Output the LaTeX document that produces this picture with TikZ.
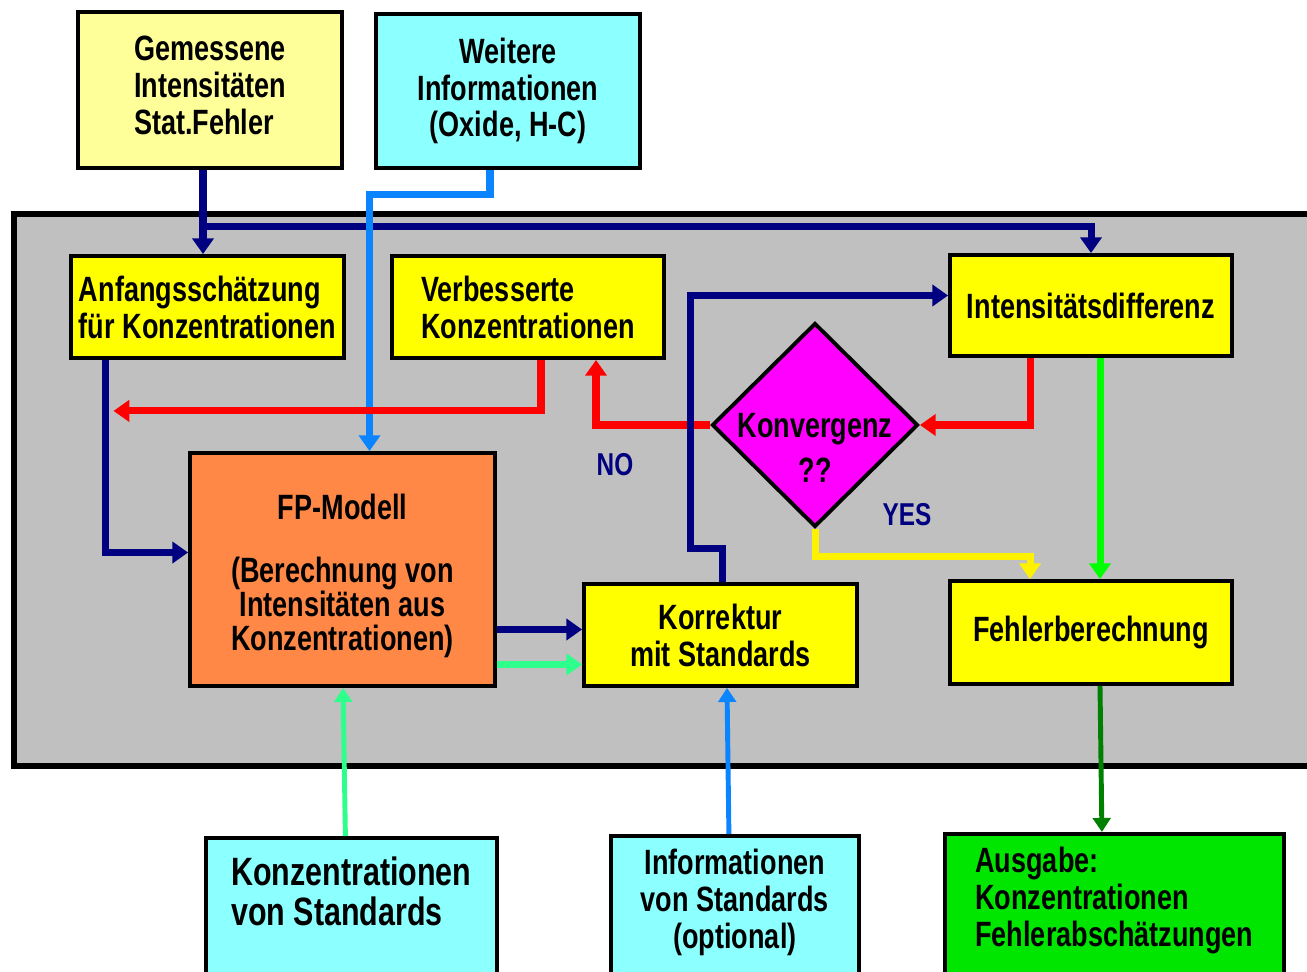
\documentclass[tikz,border=0pt]{standalone}
\usepackage{fontspec}
\newfontfamily\narrowfont[FakeStretch=0.77]{Liberation Sans}
\usetikzlibrary{positioning, arrows.meta, shapes.geometric, calc}

\definecolor{paleyellow}{HTML}{FFFF99}
\definecolor{boxyellow}{HTML}{FFFF00}
\definecolor{boxcyan}{HTML}{8CFFFF}
\definecolor{boxorange}{HTML}{FF8847}
\definecolor{boxmagenta}{HTML}{FF00FF}
\definecolor{boxgreen}{HTML}{00E600}
\definecolor{panelgray}{HTML}{C0C0C0}
\definecolor{navyline}{HTML}{000080}
\definecolor{blueline}{HTML}{0A84FF}
\definecolor{springline}{HTML}{2EFF8C}
\definecolor{greenline}{HTML}{00FF00}
\definecolor{darkline}{HTML}{008000}
\newcommand\boxfont{\narrowfont\bfseries\fontsize{20}{21}\selectfont}
\newcommand\bigboxfont{\narrowfont\bfseries\fontsize{22.5}{23}\selectfont}

\begin{document}
\begin{tikzpicture}[x=0.02cm, y=-0.02cm,
  box/.style={draw, line width=2.2pt, font=\boxfont, align=center, inner sep=0pt},
  inbox/.style={box, fill=boxcyan, anchor=north west, font=\bigboxfont, text depth=3cm, inner ysep=0.38cm},
  arrow/.style={line width=4pt, -{Triangle[length=9pt, width=12pt]}},
  thin arrow/.style={line width=2.8pt, -{Triangle[length=8pt, width=10pt]}},
  lbl/.style={text=navyline, font=\narrowfont\bfseries\fontsize{18}{20}\selectfont}]
  \useasboundingbox (0,0) rectangle (1307,972);

  \draw[line width=3.4pt, fill=panelgray] (14,214) rectangle (1340,766);

  \node[box, fill=paleyellow, align=left, minimum width=5.28cm, minimum height=3.12cm, text depth=5.5pt] (gem) at (210,90) {Gemessene\\Intensitäten\\Stat.Fehler};
  \node[box, fill=boxcyan, minimum width=5.28cm, minimum height=3.08cm] (wei) at (508,91) {Weitere\\Informationen\\(Oxide, H-C)};

  \node[box, fill=boxyellow, align=left, minimum width=5.46cm, minimum height=2.04cm] (anf) at (207.5,307) {Anfangsschätzung\\für Konzentrationen};
  \node[box, fill=boxyellow, align=left, minimum width=5.44cm, minimum height=2.04cm] (ver) at (528,307) {Verbesserte\\Konzentrationen};
  \node[box, fill=boxyellow, minimum width=5.64cm, minimum height=2.02cm] (int) at (1091,305.5) {Intensitätsdifferenz};
  \node[box, diamond, aspect=1, fill=boxmagenta, minimum width=4.12cm, minimum height=4.08cm,
    label={[align=center, font=\boxfont, yshift=-13pt]center:Konvergenz\\[5pt]??}] (kon) at (815,425) {};
  \node[box, fill=boxorange, minimum width=6.1cm, minimum height=4.66cm,
    font=\narrowfont\bfseries\fontsize{20}{19.5}\selectfont] (fp) at (342.5,569.5) {\rule{0pt}{22pt}FP-Modell\\[16pt](Berechnung von\\Intensitäten aus\\Konzentrationen)};
  \node[box, fill=boxyellow, minimum width=5.46cm, minimum height=2.04cm] (kor) at (720.5,635) {Korrektur\\mit Standards};
  \node[box, fill=boxyellow, minimum width=5.64cm, minimum height=2.06cm] (feh) at (1091,632.5) {Fehlerberechnung};

  \node[inbox, align=left, minimum width=5.82cm] (kst) at (204,836) {Konzentrationen\\von Standards};
  \node[inbox, font=\boxfont, minimum width=4.96cm, inner ysep=0.26cm] (ist) at (609,834) {Informationen\\von Standards\\(optional)};
  \node[inbox, fill=boxgreen, font=\boxfont, align=left, minimum width=6.78cm, inner ysep=0.27cm] (aus) at (943,832) {Ausgabe:\\Konzentrationen\\Fehlerabschätzungen};

  \node[lbl] (no) at (615,465) {NO};
  \node[lbl] (yes) at (907,515) {YES};

  \draw[arrow, navyline] ($(gem.south)+(-7,0)$) -- ($(anf.north)+(-4.5,0)$);
  \draw[arrow, navyline] ($(anf.north)+(-4.5,-28)$) -| (int.north);
  \draw[arrow, blueline] ($(wei.south)+(-18,0)$) -- ++(0,25) -| ($(fp.north)+(27,0)$);
  \draw[arrow, navyline] ($(anf.south)+(-102,0)$) |- ($(fp.west)+(0,-17)$);
  \draw[arrow, red] ($(ver.south)+(13,0)$) |- ($(anf.south)+(-94,51)$);
  \draw[arrow, red] ($(int.south)+(-61,0)$) |- (kon.east);
  \draw[arrow, red] (kon.west) -| ($(ver.south)+(68,0)$);
  \draw[arrow, navyline] ($(kor.north)+(2,0)$) -- ++(0,-34) -- ++(-32,0) |- ($(int.west)+(0,-10)$);
  \draw[arrow, yellow] (kon.south) -- ++(0,28) -| ($(feh.north)+(-61,0)$);
  \draw[arrow, greenline] ($(int.south)+(9,0)$) -- ($(feh.north)+(9,0)$);

  \coordinate (fpa) at ($(fp.east)+(0,60)$);
  \coordinate (fpb) at ($(fp.east)+(0,95)$);
  \draw[arrow, navyline] (fpa) -- (fpa -| kor.west);
  \draw[arrow, springline] (fpb) -- (fpb -| kor.west);

  \draw[thin arrow, springline] ($(kst.north)+(-6,0)$) -- ($(fp.south)+(0.5,0)$);
  \draw[thin arrow, blueline] ($(ist.north)+(-6,0)$) -- ($(kor.south)+(6.5,0)$);
  \draw[thin arrow, darkline] ($(feh.south)+(9,0)$) -- ($(aus.north)+(-12.5,0)$);
\end{tikzpicture}
\end{document}
